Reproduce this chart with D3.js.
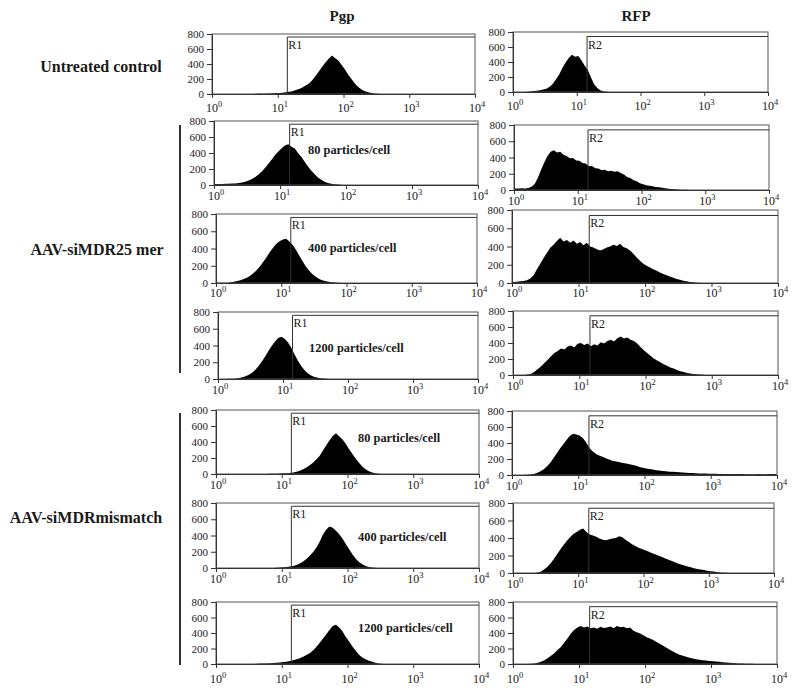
<!DOCTYPE html>
<html><head><meta charset="utf-8">
<script src="https://cdn.jsdelivr.net/npm/d3@7"></script>
<style>body{margin:0;background:#fff}svg{display:block}</style>
</head><body>
<svg id="c" width="800" height="692"></svg>
<script>
// ---------- DATA (event counts per channel bin, 20 bins per decade, starting at 10^0) ----------
const pgpControl = [0,0,0,0,0,0,0,0,0,0, 0,0,0,4,6,5,8,7,10,12, 14,18,22,30,38,52,66,88,112,140, 185,240,300,365,420,470,512,478,444,382, 322,252,198,138,95,60,38,22,12,6, 3];
const rfpControl = [0,0,0,0,3,8,12,18,25,34, 45,70,110,170,235,320,395,455,498,470, 480,420,350,290,190,100,50,20,8,3];
const pgp25_80 = [12,14,13,15,16,18,20,24,30,40, 55,75,100,130,170,215,265,320,375,420, 460,495,508,478,455,398,350,286,232,178, 135,95,65,42,26,16,10,6,3];
const rfp25_80 = [18,20,22,20,26,40,75,150,250,340, 420,470,490,462,470,435,420,392,395,362, 360,332,325,292,296,268,265,242,250,232, 238,226,232,208,192,160,148,120,108,82, 70,60,52,45,38,34,28,22,16,12, 8,6,4,3,2];
const pgp25_400 = [2,2,2,4,8,14,22,32,45,62, 85,115,150,195,245,300,360,410,455,485, 505,512,480,440,385,320,255,195,145,105, 75,50,33,22,14,9,5,3];
const rfp25_400 = [12,14,18,22,30,50,85,150,210,275, 330,385,420,460,495,455,470,440,465,430, 450,415,440,400,390,370,355,370,390,400, 420,405,430,395,380,355,320,280,245,210, 190,170,150,135,115,100,85,72,58,45, 35,25,18,12,8,4,2];
const pgp25_1200 = [0,0,1,2,3,6,12,20,32,50, 75,110,155,210,270,335,395,445,490,505, 480,440,375,300,225,160,110,72,45,28, 17,10,5,2];
const rfp25_1200 = [0,0,0,0,5,15,40,75,110,150, 190,235,275,300,330,320,355,370,345,390, 400,375,395,360,385,370,410,395,425,440, 420,460,480,455,470,440,425,395,350,310, 275,240,205,180,160,135,115,95,80,62, 48,36,26,18,12,8,5,3];
const pgpMis_80 = [0,0,0,0,0,0,0,0,0,0, 0,0,0,0,0,0,2,3,4,6, 8,10,14,20,28,40,58,80,110,140, 180,225,290,355,420,475,508,470,430,375, 310,250,190,140,95,60,35,18,8,3];
const rfpMis_80 = [0,0,0,0,3,6,12,25,45,70, 105,150,210,270,330,385,440,490,515,505, 490,455,400,330,290,260,240,225,205,190, 175,168,160,150,145,135,125,115,100,92, 82,75,68,60,55,50,46,42,40,36, 33,30,28,26,24,22,20,20,18,17, 16,15,14,14,13,12,12,12,11,11, 10,10,10,10,11,10,10,11,12,12];
const pgpMis_400 = [0,0,0,0,0,0,0,0,0,0, 0,0,0,0,0,0,0,0,3,5, 8,12,18,26,38,55,80,110,150,195, 250,320,410,470,510,495,460,415,360,295, 230,170,115,75,45,25,12,5,2];
const rfpMis_400 = [0,0,0,0,0,0,0,5,15,40, 70,110,160,215,270,320,370,410,445,470, 495,510,470,440,430,415,395,380,375,385, 395,400,420,410,380,355,330,310,290,275, 260,245,230,215,200,185,170,155,140,125, 110,98,86,75,65,55,47,40,33,27, 21,16,11,7,4,2];
const pgpMis_1200 = [0,0,0,0,0,0,0,0,0,0, 0,0,3,5,8,8,10,12,15,20, 25,30,38,48,60,75,95,115,140,175, 220,270,325,380,440,490,505,470,420,350, 290,225,170,120,85,60,42,28,16,8, 3];
const rfpMis_1200 = [0,0,0,0,0,3,8,15,30,50, 75,105,140,180,220,275,330,390,440,470, 490,470,485,460,470,455,480,465,470,485, 460,490,475,480,460,470,430,410,395,370, 345,330,310,285,260,235,210,185,160,140, 120,105,92,80,70,62,56,50,45,40, 36,32,28,24,20,16,12,10,8,6, 4,3,2];

const columnTitles = ["Pgp", "RFP"];
const groupLabels = ["Untreated control", "AAV-siMDR25 mer", "AAV-siMDRmismatch"];
const doseLabels = ["", "80 particles/cell", "400 particles/cell", "1200 particles/cell", "80 particles/cell", "400 particles/cell", "1200 particles/cell"];
const gateNames = ["R1", "R2"];
const gateThreshold = [14, 14.5];
const gateTop = [760, 740];
const yTicks = [0, 200, 400, 600, 800];
const xTicks = [1, 10, 100, 1000, 10000];
const xTickExp = ["0", "1", "2", "3", "4"];
const binsPerDecade = 20;

const pgpHist = [pgpControl, pgp25_80, pgp25_400, pgp25_1200, pgpMis_80, pgpMis_400, pgpMis_1200];
const rfpHist = [rfpControl, rfp25_80, rfp25_400, rfp25_1200, rfpMis_80, rfpMis_400, rfpMis_1200];

// ---------- LAYOUT ----------
const panelBoxes = [
  [[212,475,34,94],  [513,768,32,92]],
  [[214,478,121,185],[514,769,125,190]],
  [[216,477,214,283],[512,778,210,283]],
  [[218,478,312,379],[513,778,311,375]],
  [[216,479,410,474],[512,777,411,475]],
  [[216,479,503,568],[513,774,503,573]],
  [[216,479,602,664],[513,777,602,664]]
];
const xLabelOffset = [18, 15, 14, 15, 15, 15, 19];
const doseLabelPos = [null, [308,154], [308,252], [309,352], [358,442], [358,541], [358,632]];
const font = "'Liberation Serif','Times New Roman',serif";
const ink = "#1a1a1a";

const svg = d3.select("#c");

svg.selectAll("text.ct").data(columnTitles).join("text")
  .attr("x", (d,i) => i === 0 ? 342 : 636).attr("y", 21)
  .attr("text-anchor", "middle").attr("font-family", font)
  .attr("font-weight", "bold").attr("font-size", 15).attr("fill", ink).text(d => d);

const groupPos = [[101,72],[97,255],[86,523]];
svg.selectAll("text.gl").data(groupLabels).join("text")
  .attr("x", (d,i) => groupPos[i][0]).attr("y", (d,i) => groupPos[i][1])
  .attr("text-anchor", "middle").attr("font-family", font)
  .attr("font-weight", "bold").attr("font-size", 16).attr("fill", ink).text(d => d);

[[125,373],[413,665]].forEach(([a,b]) => {
  svg.append("line").attr("x1",180).attr("x2",180).attr("y1",a).attr("y2",b)
    .attr("stroke","#333").attr("stroke-width",2);
});

panelBoxes.forEach((row, ri) => {
  row.forEach((box, ci) => {
    const [L,R,T,B] = box;
    const x = d3.scaleLog().domain([1, 1e4]).range([L, R]);
    const y = d3.scaleLinear().domain([0, 800]).range([B, T]);
    const g = svg.append("g");
    const counts = (ci === 0 ? pgpHist : rfpHist)[ri];
    // points at bin centres, closed to zero at both ends
    const pts = counts.map((c, i) => ({ch: Math.pow(10, (i + 0.5) / binsPerDecade), c}));
    pts.unshift({ch: 1, c: counts[0]});
    pts.push({ch: Math.pow(10, counts.length / binsPerDecade), c: 0});
    const area = d3.area().x(d => x(d.ch)).y0(y(0)).y1(d => y(d.c)).curve(d3.curveLinear);
    g.append("path").attr("d", area(pts)).attr("fill", "#000");

    g.append("rect").attr("x", L).attr("y", T).attr("width", R - L).attr("height", B - T)
      .attr("fill", "none").attr("stroke", "#555").attr("stroke-width", 1);

    const gx = x(gateThreshold[ci]), gy = y(gateTop[ci]);
    g.append("path").attr("d", d3.line()([[gx, y(0)], [gx, gy], [x(1e4), gy]]))
      .attr("fill", "none").attr("stroke", "#333").attr("stroke-width", 1);
    g.append("text").attr("x", gx + 1).attr("y", gy + 12)
      .attr("font-family", font).attr("font-size", 12).attr("fill", ink).text(gateNames[ci]);

    const ya = g.append("g").attr("transform", `translate(${L},0)`)
      .call(d3.axisLeft(y).tickValues(yTicks).tickSize(5).tickPadding(3).tickFormat(d3.format("d")));
    ya.select(".domain").attr("stroke", "#333");
    ya.selectAll(".tick line").attr("stroke", "#333");
    ya.selectAll("text").attr("font-family", font).attr("font-size", 11).attr("fill", ink);

    const xa = g.append("g").attr("transform", `translate(0,${B})`)
      .call(d3.axisBottom(x).tickValues(xTicks).tickSize(4).tickFormat(""));
    xa.select(".domain").attr("stroke", "#333");
    xa.selectAll(".tick line").attr("stroke", "#333");
    const lab = g.selectAll("text.xl").data(xTicks).join("text")
      .attr("x", d => x(d) + 2).attr("y", B + xLabelOffset[ri])
      .attr("text-anchor", "middle").attr("font-family", font).attr("font-size", 12).attr("fill", ink);
    lab.append("tspan").attr("fill", ink).text("10");
    lab.append("tspan").attr("fill", ink).attr("dy", -5).attr("font-size", 8.5).text((d, i) => xTickExp[i]);

    if (ci === 0 && doseLabels[ri]) {
      g.append("text").attr("x", doseLabelPos[ri][0]).attr("y", doseLabelPos[ri][1])
        .attr("font-family", font).attr("font-weight", "bold").attr("font-size", 12.4)
        .attr("fill", ink).text(doseLabels[ri]);
    }
  });
});
</script>
</body></html>
